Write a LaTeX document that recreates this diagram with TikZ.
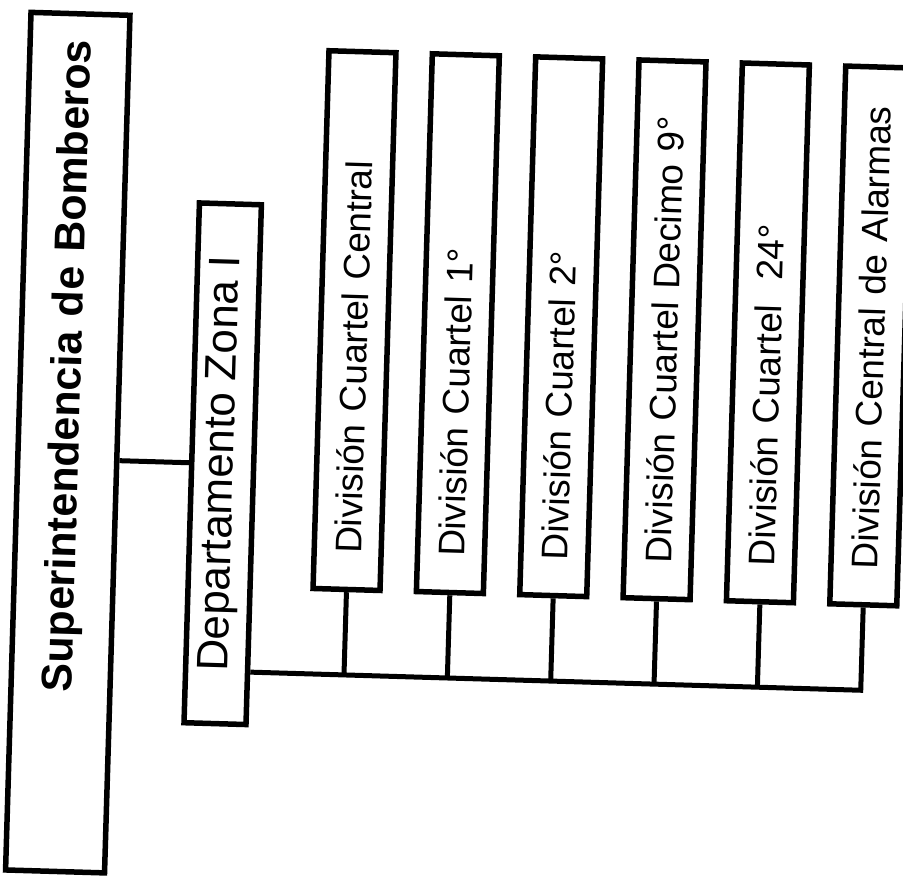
\documentclass[tikz,border=0pt]{standalone}
\usepackage{fontspec}
\setmainfont{Liberation Sans}

\begin{document}
\begin{tikzpicture}[
    x=1pt, y=-1pt,
    frm/.style={draw, line width=5.5pt, rotate=90, inner ysep=0pt},
    sbx/.style={frm, minimum width=858pt, minimum height=99pt, inner xsep=26pt, text width=806pt, align=right, font=\fontsize{43pt}{45pt}\selectfont\bfseries},
    dbx/.style={frm, minimum width=520pt, minimum height=62pt, align=center, font=\fontsize{44pt}{46pt}\selectfont},
    cbx/.style={frm, minimum width=538pt, minimum height=67pt, inner xsep=36pt, text width=466pt, align=left, font=\fontsize{37pt}{39pt}\selectfont},
    lnk/.style={line width=5pt}
]
\useasboundingbox (0,0) rectangle (903,881);

% the scan is slightly tilted
\begin{scope}[transform canvas={rotate around={-1.7:(451,440)}}]

% head
\node[sbx] (sup) at (68,454) {Superintendencia de Bomberos};

% department
\node[dbx] (dep) at (223.5,470.5) {Departamento Zona I};

% divisions
\node[cbx] (c1) at (351,323.5) {División Cuartel Central};
\node[cbx] (c2) at (454.4,323.5) {División Cuartel 1°};
\node[cbx] (c3) at (557.8,323.5) {División Cuartel 2°};
\node[cbx] (c4) at (661.2,323.5) {División Cuartel Decimo 9°};
\node[cbx] (c5) at (764.6,323.5) {División Cuartel\ \ 24°};
\node[cbx] (c6) at (868,323.5) {División Central de Alarmas};

% links
\coordinate (bus) at (0,678);
\draw[lnk] (dep.north) -- (sup.south |- dep.north);
\draw[lnk] (dep.south |- bus) -- (c6.west |- bus) -- (c6.west);
\draw[lnk] (c1.west) -- (c1.west |- bus);
\draw[lnk] (c2.west) -- (c2.west |- bus);
\draw[lnk] (c3.west) -- (c3.west |- bus);
\draw[lnk] (c4.west) -- (c4.west |- bus);
\draw[lnk] (c5.west) -- (c5.west |- bus);

\end{scope}
\end{tikzpicture}
\end{document}
